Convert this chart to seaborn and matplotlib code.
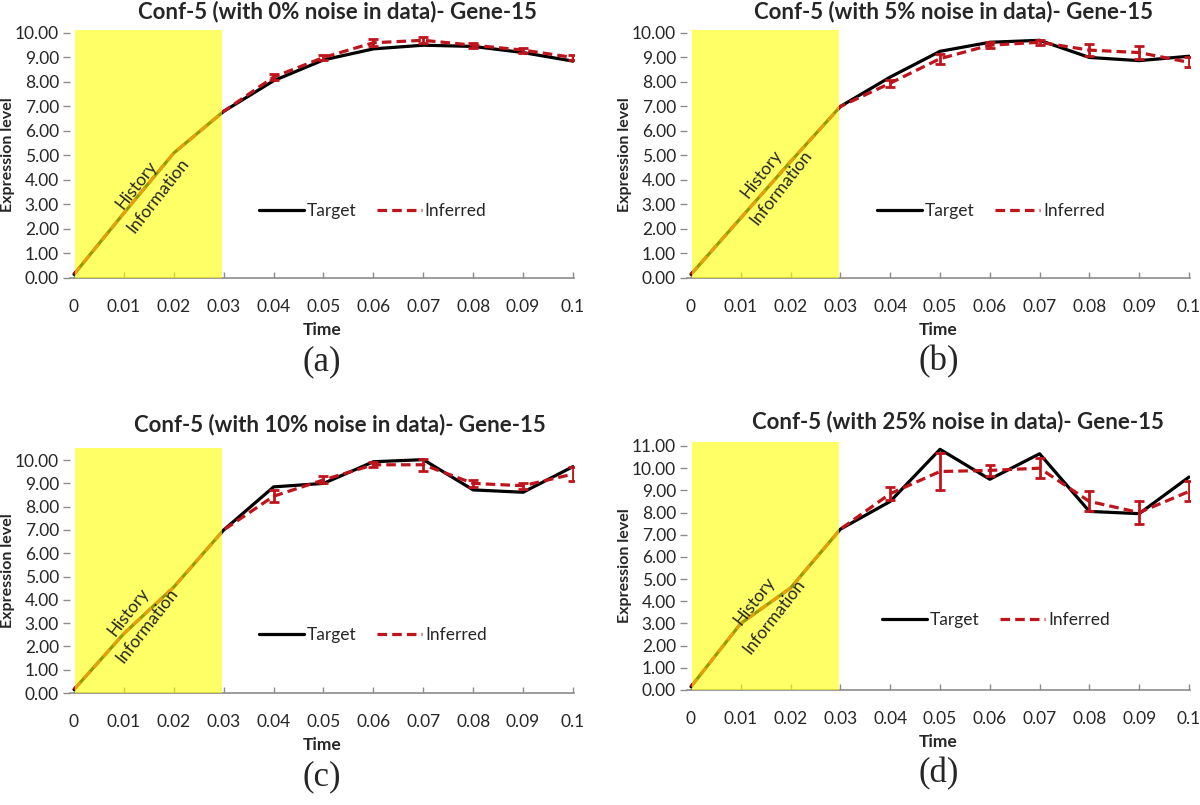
import matplotlib
matplotlib.use("Agg")
import numpy as np
import pandas as pd
import matplotlib.pyplot as plt
import seaborn as sns

# --- data ------------------------------------------------------------------
time = [0.0, 0.01, 0.02, 0.03, 0.04, 0.05, 0.06, 0.07, 0.08, 0.09, 0.1]
time_labels = ["0", "0.01", "0.02", "0.03", "0.04", "0.05", "0.06",
               "0.07", "0.08", "0.09", "0.1"]
noise_levels = ["0%", "5%", "10%", "25%"]
panel_tags = ["(a)", "(b)", "(c)", "(d)"]

# 0% noise
target_0 = [0.15, 2.65, 5.1, 6.8, 8.05, 8.9, 9.35, 9.5, 9.45, 9.2, 8.85]
inferred_0 = [0.15, 2.65, 5.1, 6.8, 8.2, 9.0, 9.6, 9.7, 9.5, 9.3, 9.0]
err_0 = [0, 0, 0, 0, 0.12, 0.12, 0.15, 0.12, 0.1, 0.1, 0.12]

# 5% noise
target_5 = [0.15, 2.45, 4.75, 7.0, 8.2, 9.25, 9.62, 9.7, 9.0, 8.87, 9.05]
inferred_5 = [0.15, 2.45, 4.75, 7.0, 7.95, 8.95, 9.5, 9.62, 9.3, 9.2, 8.8]
err_5 = [0, 0, 0, 0, 0.15, 0.2, 0.12, 0.1, 0.25, 0.25, 0.2]

# 10% noise
target_10 = [0.15, 2.55, 4.55, 7.0, 8.85, 9.0, 9.93, 10.02, 8.72, 8.62, 9.72]
inferred_10 = [0.15, 2.55, 4.55, 7.0, 8.45, 9.15, 9.8, 9.8, 9.0, 8.9, 9.4]
err_10 = [0, 0, 0, 0, 0.25, 0.15, 0.1, 0.25, 0.15, 0.12, 0.3]

# 25% noise
target_25 = [0.15, 3.0, 4.6, 7.25, 8.5, 10.85, 9.5, 10.65, 8.05, 7.95, 9.6]
inferred_25 = [0.15, 3.0, 4.6, 7.25, 8.85, 9.85, 9.9, 10.0, 8.5, 8.0, 8.95]
err_25 = [0, 0, 0, 0, 0.3, 0.85, 0.25, 0.45, 0.45, 0.5, 0.45]

targets = [target_0, target_5, target_10, target_25]
inferreds = [inferred_0, inferred_5, inferred_10, inferred_25]
errs = [err_0, err_5, err_10, err_25]
y_tops = [10.1, 10.1, 10.52, 11.18]
y_max_ticks = [10, 10, 10, 11]

# --- style -----------------------------------------------------------------
sns.set_theme(style="white")
plt.rcParams["font.family"] = ["Lato", "DejaVu Sans"]

RED = "#C0141C"
GREY = "#8C8C8C"
W, H = 1200, 805

# axes boxes in pixels: left, top, right, bottom
boxes = [(70, 30.5, 574, 278), (687, 30.5, 1190, 278),
         (70, 448, 574, 693), (687, 442, 1190, 690)]
title_pos = [(337, 12), (953, 12), (340, 425), (958, 422)]
legend_pos = [(0.60, 0.27), (0.604, 0.27), (0.601, 0.237), (0.614, 0.282)]
history_pos = [((0.0126, 3.8), (0.0168, 3.35)),
               ((0.0141, 4.24), (0.018, 3.7)),
               ((0.011, 3.5), (0.0146, 2.9)),
               ((0.0127, 4.0), (0.0166, 3.3))]

fig = plt.figure(figsize=(W / 100, H / 100), dpi=100)

for i in range(4):
    l, t, r, b = boxes[i]
    ax = fig.add_axes([l / W, 1 - b / H, (r - l) / W, (b - t) / H])

    df = pd.DataFrame({"time": time, "target": targets[i],
                       "inferred": inferreds[i], "err": errs[i]})

    sns.lineplot(data=df, x="time", y="target", ax=ax, color="black",
                 linewidth=2.3, label="Target", zorder=2)
    sns.lineplot(data=df, x="time", y="inferred", ax=ax, color=RED,
                 linewidth=2.3, dashes=False, label="Inferred", zorder=2.5)
    ax.lines[-1].set_dashes((3, 1.6))

    eb = df[df["err"] > 0]
    ax.errorbar(eb["time"], eb["inferred"], yerr=eb["err"], fmt="none",
                ecolor=RED, elinewidth=2, capsize=3.5, capthick=2, zorder=2.6)

    # history window, laid over the lines like the reference
    ax.axvspan(0.0003, 0.0297, color="#FFFF00", alpha=0.6, lw=0, zorder=3)
    (hx, hy), (ix, iy) = history_pos[i]
    ax.text(hx, hy, "History", rotation=52, ha="center", va="center",
            fontsize=12.5, zorder=4)
    ax.text(ix, iy, "Information", rotation=52, ha="center", va="center",
            fontsize=12.5, zorder=4)

    ax.set_xlim(-0.0008, 0.1002)
    ax.set_ylim(0, y_tops[i])
    ax.set_xticks(time)
    ax.set_xticklabels(time_labels)
    yt = np.arange(0, y_max_ticks[i] + 1)
    ax.set_yticks(yt)
    ax.set_yticklabels([f"{v:.2f}" for v in yt])

    for side in ["left", "right", "top"]:
        ax.spines[side].set_visible(False)
    ax.spines["bottom"].set_color(GREY)
    ax.spines["bottom"].set_linewidth(1.2)
    ax.tick_params(axis="x", direction="in", length=4, width=1, color=GREY,
                   pad=15, labelsize=12.5, bottom=True)
    ax.tick_params(axis="y", direction="out", length=5, width=1, color=GREY,
                   pad=3, labelsize=12.5, left=True)

    ax.set_xlabel("Time", fontsize=12.5, fontweight="bold")
    ax.xaxis.label.set_va("center")
    ax.xaxis.set_label_coords(0.5, -(330 - 278) / (b - t))
    ax.set_ylabel("Expression level", fontsize=11.5, fontweight="bold")
    ax.yaxis.label.set_va("center")
    ax.yaxis.set_label_coords(-0.124, 0.5)

    ax.legend(loc="center", bbox_to_anchor=legend_pos[i], ncol=2,
              frameon=False, fontsize=12.5, handlelength=2.6,
              handletextpad=0.15, columnspacing=1.2)

    tx, ty = title_pos[i]
    fig.text(tx / W, 1 - ty / H,
             f"Conf-5 (with {noise_levels[i]} noise in data)- Gene-15",
             ha="center", va="center", fontsize=16, fontweight="bold")

    ax.text(0.5, -84 / (b - t), panel_tags[i],
            transform=ax.transAxes, ha="center", va="center", fontsize=25,
            family="Liberation Serif")

fig.savefig("out.png", dpi=100)
